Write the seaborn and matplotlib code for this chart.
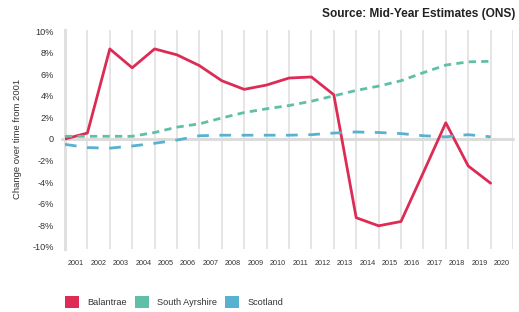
import numpy as np
import pandas as pd
import seaborn as sns
import matplotlib.pyplot as plt
from matplotlib.patches import Patch

years = list(range(2001, 2021))
tick_labels = [str(y) for y in range(2001, 2021)]
areas = ["Balantrae", "South Ayrshire", "Scotland"]

balantrae = [0.0, 0.55, 8.35, 6.6, 8.35, 7.8, 6.8, 5.4, 4.6, 5.0,
             5.65, 5.75, 4.1, -7.3, -8.05, -7.65, -3.1, 1.5, -2.5, -4.1]
south_ayrshire = [0.25, 0.25, 0.25, 0.25, 0.6, 1.1, 1.4, 1.95, 2.45, 2.8,
                  3.1, 3.5, 4.0, 4.5, 4.9, 5.4, 6.15, 6.85, 7.15, 7.2]
scotland = [-0.5, -0.8, -0.85, -0.65, -0.4, -0.1, 0.3, 0.35, 0.35, 0.35,
            0.35, 0.4, 0.55, 0.65, 0.6, 0.5, 0.3, 0.2, 0.4, 0.2]

colors = {"Balantrae": "#dc2b55", "South Ayrshire": "#5fbfa7", "Scotland": "#58b2cf"}
dashes = {"Balantrae": "", "South Ayrshire": (2.6, 1.9), "Scotland": (4.2, 3.8)}

df = pd.DataFrame({
    "year": years * 3,
    "change": balantrae + south_ayrshire + scotland,
    "area": np.repeat(areas, len(years)),
})

sns.set_style("white")
plt.rcParams["font.family"] = ["Liberation Sans", "DejaVu Sans"]
text_col = "#333333"
grid_col = "#e3e3e3"

fig = plt.figure(figsize=(5.19, 3.12), dpi=100)
ax = fig.add_axes([65 / 519, 1 - 249 / 312, (513 - 65) / 519, (249 - 29.5) / 312])

ax.axhline(0, color="#dcdcdc", lw=2.2, zorder=1, xmin=-0.006, clip_on=False)
sns.lineplot(data=df, x="year", y="change", hue="area", style="area",
             palette=colors, dashes=dashes, linewidth=2.0, legend=False,
             ax=ax, zorder=3)

ax.set_xlim(2001, 2021)
ax.set_ylim(-10.2, 10.15)

# gridlines on whole years, labels centred in between
ax.set_xticks(np.arange(2001, 2022), minor=True)
ax.set_xticks(np.arange(2001, 2021) + 0.5)
ax.set_xticklabels(tick_labels)
ax.grid(which="minor", axis="x", color=grid_col, lw=1.3)
ax.grid(which="major", axis="x", visible=False)
ax.tick_params(axis="x", which="both", length=0, labelsize=5.2, colors=text_col, pad=8)

yt = np.arange(-10, 11, 2)
ax.set_yticks(yt)
ax.set_yticklabels(["0" if v == 0 else f"{v}%" for v in yt])
ax.tick_params(axis="y", direction="in", length=4, width=1.6, color="#dddddd",
               labelsize=6.6, labelcolor=text_col, pad=8)

for side in ["top", "right", "bottom"]:
    ax.spines[side].set_visible(False)
ax.spines["left"].set_color("#e0e0e0")
ax.spines["left"].set_linewidth(2.2)

ax.set_xlabel("")
ax.set_ylabel("Change over time from 2001", fontsize=6.8, color=text_col)
ax.yaxis.set_label_coords(-0.095, 0.5)

fig.text(515 / 519, 1 - 13.5 / 312, "Source: Mid-Year Estimates (ONS)",
         ha="right", va="center", fontsize=8.6, fontweight="bold", color="#222222")

handles = [Patch(facecolor=colors[a], edgecolor="none", label=a) for a in areas]
fig.legend(handles=handles, loc="center left", bbox_to_anchor=(65 / 519, 1 - 302 / 312),
           ncol=3, frameon=False, fontsize=6.6, handlelength=1.55, handleheight=1.55,
           handletextpad=0.9, columnspacing=0.85, borderaxespad=0, borderpad=0,
           labelcolor=text_col)

fig.savefig("out.png", dpi=100)
